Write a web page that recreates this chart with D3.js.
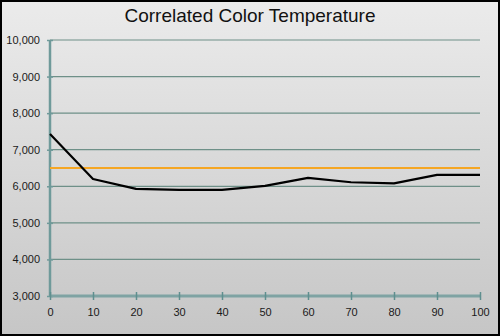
<!DOCTYPE html>
<html>
<head>
<meta charset="utf-8">
<script src="https://cdn.jsdelivr.net/npm/d3@7"></script>
<style>
  html, body { margin: 0; padding: 0; background: #000; }
  svg { display: block; }
</style>
</head>
<body>
<svg id="chart" width="500" height="336"></svg>
<script>
// Measured correlated colour temperature per stimulus level (% IRE)
const levels = [0, 10, 20, 30, 40, 50, 60, 70, 80, 90, 100];
const cct = [7430, 6200, 5930, 5900, 5900, 6010, 6230, 6110, 6080, 6310, 6310];
// D65 reference white point
const targetCCT = 6500;
const xTicks = [0, 10, 20, 30, 40, 50, 60, 70, 80, 90, 100];
const yTicks = [3000, 4000, 5000, 6000, 7000, 8000, 9000, 10000];
const titleText = "Correlated Color Temperature";

const W = 500, H = 336;
const svg = d3.select("#chart");

// Background panel with a soft vertical gradient
const defs = svg.append("defs");
const grad = defs.append("linearGradient").attr("id", "bg").attr("x1", 0).attr("y1", 0).attr("x2", 0).attr("y2", 1);
grad.append("stop").attr("offset", "0%").attr("stop-color", "#ebebeb");
grad.append("stop").attr("offset", "100%").attr("stop-color", "#c6c6c6");
svg.append("rect").attr("x", 2).attr("y", 2).attr("width", W - 4).attr("height", H - 4).attr("fill", "url(#bg)");

const x = d3.scaleLinear().domain([0, 100]).range([50, 480]);
const y = d3.scaleLinear().domain([3000, 10000]).range([296, 40]);

// Horizontal gridlines
svg.append("g")
  .selectAll("line")
  .data(yTicks)
  .join("line")
  .attr("x1", x(0)).attr("x2", x(100))
  .attr("y1", d => y(d)).attr("y2", d => y(d))
  .attr("stroke", "#6e9088").attr("stroke-width", 1.2);

// Y axis
const yAxis = svg.append("g")
  .attr("transform", `translate(${x(0)},0)`)
  .call(d3.axisLeft(y).tickValues(yTicks).tickSize(3).tickPadding(7).tickFormat(d3.format(",")));
yAxis.select(".domain").attr("stroke", "#6f9a9a").attr("stroke-width", 2.5).attr("d", `M0,${y(3000)}V${y(10000)}`);
yAxis.selectAll(".tick line").attr("stroke", "#6f9a9a").attr("stroke-width", 1.5).attr("x2", 3).attr("x1", -3);
yAxis.selectAll(".tick text").attr("fill", "#1a1a1a").style("font-family", "Liberation Sans, Arial, sans-serif").style("font-size", "11px");

// X axis
const xAxis = svg.append("g")
  .attr("transform", `translate(0,${y(3000)})`)
  .call(d3.axisBottom(x).tickValues(xTicks).tickSize(3).tickPadding(9));
xAxis.select(".domain").attr("stroke", "#7fa3a3").attr("stroke-width", 3).attr("d", `M${x(0)},0H${x(100)}`);
xAxis.selectAll(".tick line").attr("stroke", "#5f8f8f").attr("stroke-width", 1.5).attr("y1", -4).attr("y2", 4);
xAxis.selectAll(".tick text").attr("fill", "#1a1a1a").style("font-family", "Liberation Sans, Arial, sans-serif").style("font-size", "11px");

// Target line
svg.append("line")
  .attr("x1", x(0)).attr("x2", x(100))
  .attr("y1", y(targetCCT)).attr("y2", y(targetCCT))
  .attr("stroke", "#f5a623").attr("stroke-width", 2);

// Measured series
const line = d3.line().x((d, i) => x(levels[i])).y(d => y(d));
svg.append("path")
  .datum(cct)
  .attr("d", line)
  .attr("fill", "none")
  .attr("stroke", "#000")
  .attr("stroke-width", 2.2)
  .attr("stroke-linejoin", "round");

// Title
svg.append("text")
  .attr("x", 250).attr("y", 22)
  .attr("text-anchor", "middle")
  .style("font-family", "Liberation Sans, Arial, sans-serif")
  .style("font-size", "19px")
  .attr("fill", "#111")
  .text(titleText);
</script>
</body>
</html>
